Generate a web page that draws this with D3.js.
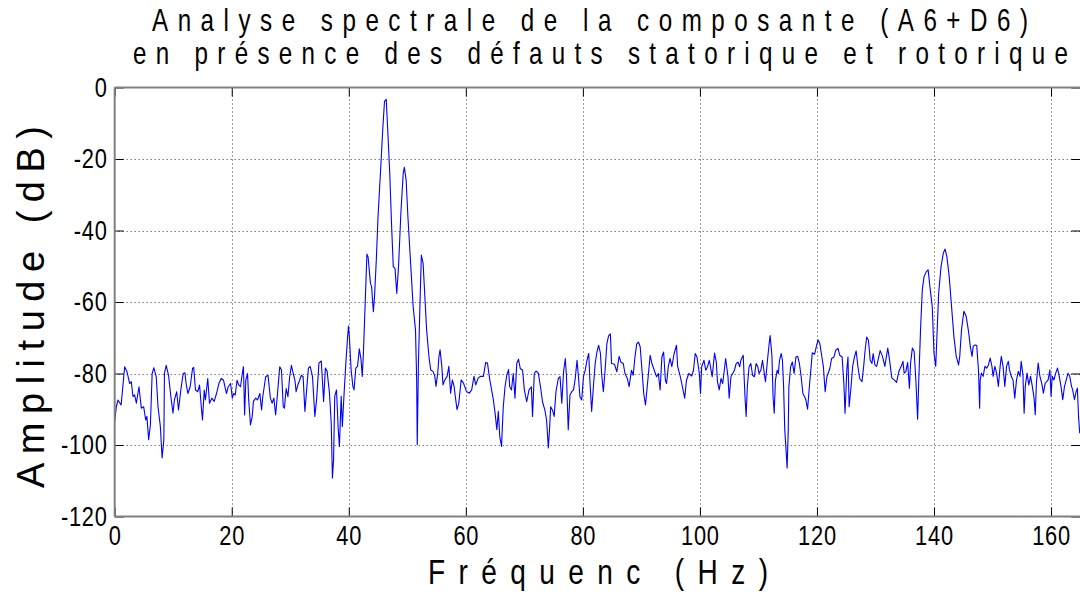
<!DOCTYPE html>
<html>
<head>
<meta charset="utf-8">
<script src="https://cdn.jsdelivr.net/npm/d3@7"></script>
<style>
  html, body { margin: 0; padding: 0; background: #fff; }
  svg { display: block; }
  .lbl { font-family: "Liberation Sans", Arial, Helvetica, sans-serif; fill: #000; }
</style>
</head>
<body>
<svg id="chart" width="1080" height="592"></svg>
<script>
// Title lines and axis labels
const titleLines = [
  "Analyse spectrale de la composante (A6+D6)",
  "en présence des défauts statorique et rotorique"
];
const xLabel = "Fréquenc (Hz)";
const yLabel = "Amplitude (dB)";

// Axis ticks
const xTicks = [0, 20, 40, 60, 80, 100, 120, 140, 160];
const yTicks = [-120, -100, -80, -60, -40, -20, 0];
const xDomain = [0, 165];
const yDomain = [-120, 0];

// Spectrum of the (A6+D6) component: [frequency Hz, amplitude dB]
const spectrumLow = [
  [0,-93.4],[0.28,-89.3],[0.56,-87.4],[1.1,-88.8],[1.7,-78.1],[2.1,-79.5],[2.56,-82.8],[2.84,-82.3],
  [3.13,-86.5],[3.4,-86],[3.7,-88.3],[4.15,-83.7],[4.55,-89.7],[4.95,-89.3],[5.3,-93],[5.5,-92],
  [5.8,-98.5],[6.1,-94.4],[6.4,-80],[6.7,-78.4],[7.1,-80.9],[7.4,-89.3],[7.8,-94.8],[8.1,-103.6],
  [8.4,-98.5],[8.5,-80],[8.8,-77.7],[9.2,-80.5],[9.6,-86.5],[9.96,-91.1],[10.2,-87.4],[10.6,-85.1],
  [10.9,-90.2],[11.3,-84.6],[11.7,-80],[12.0,-79.8],[12.2,-82.8],[12.5,-85.6],[12.9,-83.7],[13.3,-78.6],
  [13.5,-78.3],[13.8,-84.6],[14.2,-85.1],[14.5,-83.2],[14.8,-89.3],[15.0,-93],[15.3,-84.6],[15.5,-87.4],
  [15.9,-81.4],[16.2,-88.3],[16.6,-86.9],[17.0,-87.8],[17.4,-85.6],[17.8,-82.8],[18.2,-81.4],[18.6,-81.9],
  [19.1,-85.6],[19.4,-83.7],[19.8,-82.8],[20.1,-86.9],[20.3,-85.6],[20.6,-86],[20.9,-81.9],[21.2,-83.2],
  [21.5,-83.7],[21.8,-80],[22.0,-78.1],[22.2,-91.6],[22.4,-81.9],[22.7,-80],[22.9,-87.4],[23.2,-94.4],
  [23.5,-92],[23.7,-87.8],[24.1,-86.9],[24.4,-87.4],[24.8,-85.6],[25.1,-90.2],[25.3,-86.5],[25.8,-80.9],
  [26.2,-80.5],[26.6,-86.9],[26.9,-88.3],[27.2,-86.9],[27.5,-91.6],[27.8,-86],[28.2,-78.1],[28.5,-79],
  [28.8,-89.3],[29.0,-89.7],[29.3,-84.2],[29.6,-86.5],[29.9,-80.9],[30.2,-77.7],[30.5,-80],[30.8,-81.9],
  [31.0,-85.1],[31.3,-83.2],[31.6,-81.9],[31.9,-80.5],[32.2,-80.9],[32.5,-90.6]
];
const spectrumFundamental = [
  [33.1,-78.5],[33.4,-78],[33.8,-80.8],[34.2,-92],[34.5,-87.3],[34.9,-77.1],[35.3,-76.5],[35.7,-87.8],
  [36.0,-78.5],[36.3,-79.4],[36.7,-85.5],[37.0,-93.9],[37.2,-109.2],[37.4,-104.1],[37.6,-86.4],[37.9,-84.6],
  [38.2,-95.7],[38.4,-100.4],[38.7,-86.4],[38.9,-94.8],[39.2,-85.5],[39.5,-77.1],[39.8,-69.7],[39.95,-66.7],
  [40.1,-69.7],[40.4,-79],[40.7,-83.6],[40.9,-84.6],[41.2,-78.5],[41.5,-78],[41.8,-73.1],[42.1,-76.2],
  [42.3,-80.8],[42.5,-74.3],[42.8,-60.4],[43.1,-46.6],[43.3,-47.4],[43.7,-54.8],[43.9,-55.7],[44.2,-62.7],
  [44.4,-58.5],[44.7,-48.3],[45.0,-36.1],[45.5,-21.2],[45.8,-11.9],[46.1,-3.9],[46.4,-3.3],[46.6,-10],
  [47.0,-24],[47.3,-38],[47.6,-50.1],[47.9,-50.6],[48.2,-57.6],[48.5,-50.1],[48.9,-35.2],[49.3,-24],
  [49.5,-22.3],[49.8,-25.9],[50.1,-36.1],[50.5,-47.3],[51.0,-61.3],[51.4,-67.8],[51.6,-81.8],[51.7,-99.9],
  [51.9,-77.1],[52.2,-58.5],[52.4,-46.9],[52.7,-49.2],[53.0,-58.5],[53.3,-67.8],[53.7,-75.3],[54.0,-79],
  [54.4,-79.4],[54.7,-80.8],[54.9,-83.6],[55.2,-79.9],[55.4,-75.3],[55.6,-73.4],[55.9,-78],[56.1,-83.2],
  [56.4,-81.8],[56.8,-80.8],[57.1,-78],[57.4,-85.5],[57.7,-81.8],[58.0,-83.6],[58.2,-86.4],[58.5,-90.1],
  [58.8,-88.3],[59.2,-81.8],[59.6,-82.7],[60.1,-85],[60.6,-85.5],[61.0,-84.6],[61.4,-80.8],[61.7,-83.2],
  [62.1,-81.3],[62.5,-80.8],[63.0,-80.8],[63.4,-76.9],[63.7,-77.1],[64.1,-81.8],[64.7,-87.3]
];
const spectrumMid = [
  [65.0,-91.1],[65.3,-95.7],[65.55,-90.6],[65.8,-97.6],[66.1,-100.4],[66.4,-89.3],[66.7,-83.7],[67.0,-80.5],
  [67.3,-78.9],[67.5,-83.7],[67.8,-84.6],[68.1,-80],[68.4,-86.9],[68.7,-77.2],[69.0,-76],[69.3,-78.6],
  [69.7,-79.1],[70.0,-84.6],[70.4,-87.9],[70.8,-84.6],[71.2,-83.7],[71.4,-92],[71.7,-80],[72.0,-79.3],
  [72.4,-80],[72.8,-84.2],[73.1,-87.9],[73.5,-90.2],[73.8,-93],[74.1,-100.8],[74.3,-95.7],[74.5,-89.3],
  [74.8,-90.2],[75.1,-92],[75.4,-85.1],[75.8,-81.4],[76.1,-80.9],[76.4,-88.3],[76.7,-79.5],[77.0,-75.8],
  [77.2,-80.9],[77.5,-95.7],[77.8,-86],[78.1,-85.1],[78.4,-84.6],[78.7,-81.4],[79.0,-76.3],[79.2,-80],
  [79.5,-86.5],[79.8,-87.4],[80.1,-80.9],[80.4,-79.1],[80.7,-76.3],[81.0,-74.4],[81.2,-81.9],[81.5,-90.6],
  [81.8,-83.7],[82.1,-77.2],[82.4,-74],[82.7,-72.1],[83.0,-74.4],[83.2,-80],[83.5,-85.1],[83.8,-79.1],
  [84.1,-71.7],[84.4,-69.4],[84.7,-68.9],[84.9,-77.2],[85.4,-77.4],[85.8,-79.5],[86.2,-75.2],[86.5,-76.8],
  [86.9,-77.2],[87.2,-80],[87.6,-81.4],[87.9,-83.7],[88.3,-79.1],[88.6,-80.5],[88.9,-75.4],[89.2,-71.7],
  [89.5,-71.2],[89.8,-72.6],[90.1,-79.1],[90.4,-85.6],[90.7,-88.8],[91.1,-81.9],[91.5,-74.9],[91.8,-77.2],
  [92.2,-79.1],[92.6,-80.9],[92.9,-80],[93.2,-84.6],[93.5,-75.4],[93.8,-74],[94.1,-81.9],[94.3,-82.8],
  [94.6,-78.1],[94.9,-75.8],[95.2,-78.1],[95.6,-74.4],[96.0,-72.1],[96.2,-78.1],[96.6,-80.5],[96.9,-82.8],
  [97.4,-86.9]
];
const spectrumUpper = [
  [97.7,-81.9],[98.1,-80],[98.6,-80.7],[98.9,-79.1],[99.2,-74.4],[99.5,-75.4],[99.9,-80],[100.1,-85.6],
  [100.3,-78.1],[100.7,-76.3],[101.0,-79.1],[101.3,-78.1],[101.6,-76.3],[101.8,-78.1],[102.1,-80.9],[102.5,-74.3],
  [102.8,-76.8],[103.0,-82.3],[103.3,-84.6],[103.6,-81.4],[103.9,-82.8],[104.2,-78.6],[104.4,-75.8],[104.8,-80.9],
  [105.0,-86.9],[105.3,-80.9],[105.6,-80],[105.9,-79.1],[106.2,-77.2],[106.5,-76.8],[106.8,-78.1],[107.0,-76.3],
  [107.4,-74.9],[107.7,-86.5],[107.9,-92],[108.1,-83.7],[108.4,-78.1],[108.7,-77.2],[109.0,-80.5],[109.3,-80.9],
  [109.6,-77.2],[109.9,-78.1],[110.1,-80],[110.4,-79.1],[110.7,-76.3],[111.0,-80],[111.2,-82.3],[111.6,-75.4],
  [111.9,-70.7],[112.0,-69.4],[112.3,-74.9],[112.5,-86.5],[112.7,-91.1],[112.9,-81.9],[113.2,-79.1],[113.4,-80],
  [113.6,-76.3],[113.9,-74.4],[114.1,-76.3],[114.3,-83.7],[114.5,-95.7],[114.8,-103.6],[114.9,-106.4],[115.1,-95.7],
  [115.2,-83.7],[115.5,-78.1],[115.8,-76.8],[116.1,-80],[116.4,-75.4],[116.7,-75.2],[117.0,-77.2],[117.3,-80.9],
  [117.6,-85.6],[117.9,-86.5],[118.1,-87.4],[118.4,-90],[118.7,-83.7],[119.0,-78.1],[119.2,-74.2],[119.6,-74.6],
  [120.0,-71.7],[120.2,-70.6],[120.5,-71.7],[120.8,-74.9],[121.1,-78.1],[121.4,-85.1],[121.7,-80.9],[121.9,-80],
  [122.2,-78.6],[122.5,-75.8],[122.9,-75.4],[123.2,-73.5],[123.6,-73],[123.9,-74.9],[124.3,-75.4],[124.6,-82.8],
  [124.8,-91.1],[125.1,-79.1],[125.3,-75.4],[125.5,-89.3],[125.8,-84.2],[126.1,-78.1],[126.4,-75.4],[126.7,-73.7],
  [127.0,-78.1],[127.3,-81.4],[127.7,-82.3],[128.0,-77.7],[128.2,-74],[128.5,-69.8],[128.8,-70.7],[129.1,-76.3],
  [129.4,-77.2],[129.6,-74.4]
];
const spectrumHigh = [
  [129.9,-77.6],[130.2,-78],[130.8,-73.6],[131.2,-75.2],[131.6,-78],[132.1,-72.9],[132.4,-76.2],[132.8,-81.3],
  [133.2,-81.8],[133.6,-82.5],[134.0,-79.4],[134.4,-78],[134.7,-76.6],[134.9,-79.9],[135.2,-79.4],[135.5,-76.9],
  [135.8,-84.1],[136.0,-77.1],[136.3,-72.9],[136.6,-73.8],[136.9,-81.8],[137.2,-92.8],[137.4,-81.8],[137.7,-67.8],
  [138.0,-56.6],[138.3,-52.9],[138.7,-51.5],[139.0,-51],[139.3,-55.7],[139.7,-61.3],[140.0,-74.3],[140.3,-78],
  [140.5,-69.6],[140.8,-57.5],[141.2,-50.1],[141.6,-46.3],[141.9,-45.2],[142.2,-47.3],[142.6,-52.9],[143.0,-61.3],
  [143.4,-69.6],[143.8,-75.2],[144.2,-77.6],[144.4,-75.2],[144.7,-67.8],[145.1,-62.6],[145.5,-64],[145.9,-68.2],
  [146.2,-72.4],[146.5,-75.2],[146.7,-72.4],[147.0,-72],[147.3,-72.2],[147.6,-79],[147.8,-89.7],[147.9,-81.8],
  [148.1,-79.9],[148.4,-80.8],[148.7,-78],[149.0,-78.5],[149.3,-77.6],[149.6,-75.7],[149.9,-78],[150.1,-80.8],
  [150.4,-78],[150.7,-79.9],[151.0,-83.6],[151.3,-78],[151.5,-75.2],[151.8,-78],[152.1,-83.6],[152.4,-78],
  [152.7,-76.6],[152.9,-79],[153.2,-80.8],[153.5,-81.8],[153.8,-86.9],[154.1,-81.8],[154.4,-79.4],[154.7,-80.8],
  [154.9,-76.6],[155.2,-80.4],[155.4,-91.1],[155.6,-83.6],[155.9,-79.9],[156.2,-83.2],[156.5,-80.8],[156.8,-83.6],
  [157.1,-86.9],[157.3,-91.5],[157.5,-82.7],[157.8,-77.1],[158.1,-80.8],[158.4,-82.7],[158.7,-85.5],[159.0,-82.7],
  [159.3,-82.2],[159.5,-81.8],[159.8,-79],[160.0,-86.4],[160.2,-80.8],[160.5,-81.8],[160.8,-79.9],[161.1,-78.5],
  [161.4,-80.8],[161.7,-83.6],[162.0,-87.3],[162.3,-83.6],[162.6,-81.8],[162.9,-79.9],[163.2,-80.8],[163.5,-83.6],
  [163.7,-84.6],[164.0,-87.3],[164.3,-85],[164.5,-84.1],[164.7,-92],[164.9,-96.7]
];

const spectrum = [].concat(spectrumLow, spectrumFundamental, spectrumMid, spectrumUpper, spectrumHigh);

// Layout
const plot = { left: 114.7, right: 1080.3, top: 87.5, bottom: 516.5 };
const squeeze = 0.78;   // horizontal compression of the condensed lettering
const svg = d3.select("#chart");

const x = d3.scaleLinear().domain(xDomain).range([plot.left, plot.right]);
const y = d3.scaleLinear().domain(yDomain).range([plot.bottom, plot.top]);

svg.append("defs").append("clipPath").attr("id", "plotClip")
  .append("rect")
  .attr("x", plot.left).attr("y", plot.top)
  .attr("width", plot.right - plot.left).attr("height", plot.bottom - plot.top);

// Dotted grid
const grid = svg.append("g").attr("stroke", "#000").attr("stroke-width", 1)
  .attr("stroke-dasharray", "1,3").attr("opacity", 0.75);
grid.selectAll("line.gx").data(xTicks.filter(t => t > xDomain[0])).join("line")
  .attr("class", "gx")
  .attr("x1", d => Math.round(x(d)) + 0.5).attr("x2", d => Math.round(x(d)) + 0.5)
  .attr("y1", plot.top).attr("y2", plot.bottom);
grid.selectAll("line.gy").data(yTicks.filter(t => t > yDomain[0] && t < yDomain[1])).join("line")
  .attr("class", "gy")
  .attr("y1", d => Math.round(y(d)) + 0.5).attr("y2", d => Math.round(y(d)) + 0.5)
  .attr("x1", plot.left).attr("x2", plot.right);

// Spectrum trace
const line = d3.line().x(d => x(d[0])).y(d => y(d[1]));
svg.append("path")
  .datum(spectrum)
  .attr("clip-path", "url(#plotClip)")
  .attr("fill", "none")
  .attr("stroke", "#0000ff")
  .attr("stroke-width", 1.1)
  .attr("stroke-linejoin", "round")
  .attr("d", line);

// Axes with inward ticks; plain hyphen for negative labels
const tickLen = 9;
const plainFormat = d => String(d);
const xAxis = svg.append("g")
  .attr("transform", `translate(0,${plot.bottom})`)
  .call(d3.axisBottom(x).tickValues(xTicks).tickFormat(plainFormat)
    .tickSizeInner(-tickLen).tickSizeOuter(0).tickPadding(9));
const yAxis = svg.append("g")
  .attr("transform", `translate(${plot.left},0)`)
  .call(d3.axisLeft(y).tickValues(yTicks).tickFormat(plainFormat)
    .tickSizeInner(-tickLen).tickSizeOuter(0).tickPadding(7 / squeeze));
const topAxis = svg.append("g")
  .attr("transform", `translate(0,${plot.top})`)
  .call(d3.axisTop(x).tickValues(xTicks).tickFormat("")
    .tickSizeInner(-tickLen).tickSizeOuter(0));
const rightAxis = svg.append("g")
  .attr("transform", `translate(${plot.right},0)`)
  .call(d3.axisRight(y).tickValues(yTicks).tickFormat("")
    .tickSizeInner(-tickLen).tickSizeOuter(0));

[xAxis, yAxis, topAxis, rightAxis].forEach(g => {
  g.select(".domain").remove();
  g.selectAll(".tick line").attr("stroke", "#000").attr("stroke-width", 1);
});
[xAxis, yAxis].forEach(g => {
  g.selectAll(".tick text")
    .attr("class", "lbl")
    .attr("font-size", 28)
    .attr("transform", `scale(${squeeze},1)`)
    .style("letter-spacing", "1px")
    .attr("fill", "#000");
});

// Axis box (gray frame)
const frame = svg.append("g").attr("stroke", "#808080").attr("stroke-width", 2).attr("fill", "none");
frame.append("line").attr("x1", plot.left).attr("x2", plot.right + 1).attr("y1", plot.top).attr("y2", plot.top);
frame.append("line").attr("x1", plot.left).attr("x2", plot.right + 1).attr("y1", plot.bottom).attr("y2", plot.bottom);
frame.append("line").attr("x1", plot.left).attr("x2", plot.left).attr("y1", plot.top).attr("y2", plot.bottom);

// Condensed text with a fixed overall width
function condensedText(parent, text, tx, ty, size, width) {
  const g = parent.append("g")
    .attr("transform", `translate(${tx},${ty}) scale(${squeeze},1)`);
  g.append("text")
    .attr("class", "lbl")
    .attr("x", 0).attr("y", 0)
    .attr("font-size", size)
    .attr("textLength", width / squeeze)
    .attr("lengthAdjust", "spacing")
    .text(text);
  return g;
}

// Title
condensedText(svg, titleLines[0], 152, 31, 31, 876);
condensedText(svg, titleLines[1], 133, 64, 31, 935);

// Axis labels
condensedText(svg, xLabel, 428, 584, 36, 340);
svg.append("text")
  .attr("class", "lbl")
  .attr("transform", "translate(44,488) rotate(-90)")
  .attr("font-size", 38)
  .attr("textLength", 362)
  .attr("lengthAdjust", "spacing")
  .text(yLabel);
</script>
</body>
</html>
